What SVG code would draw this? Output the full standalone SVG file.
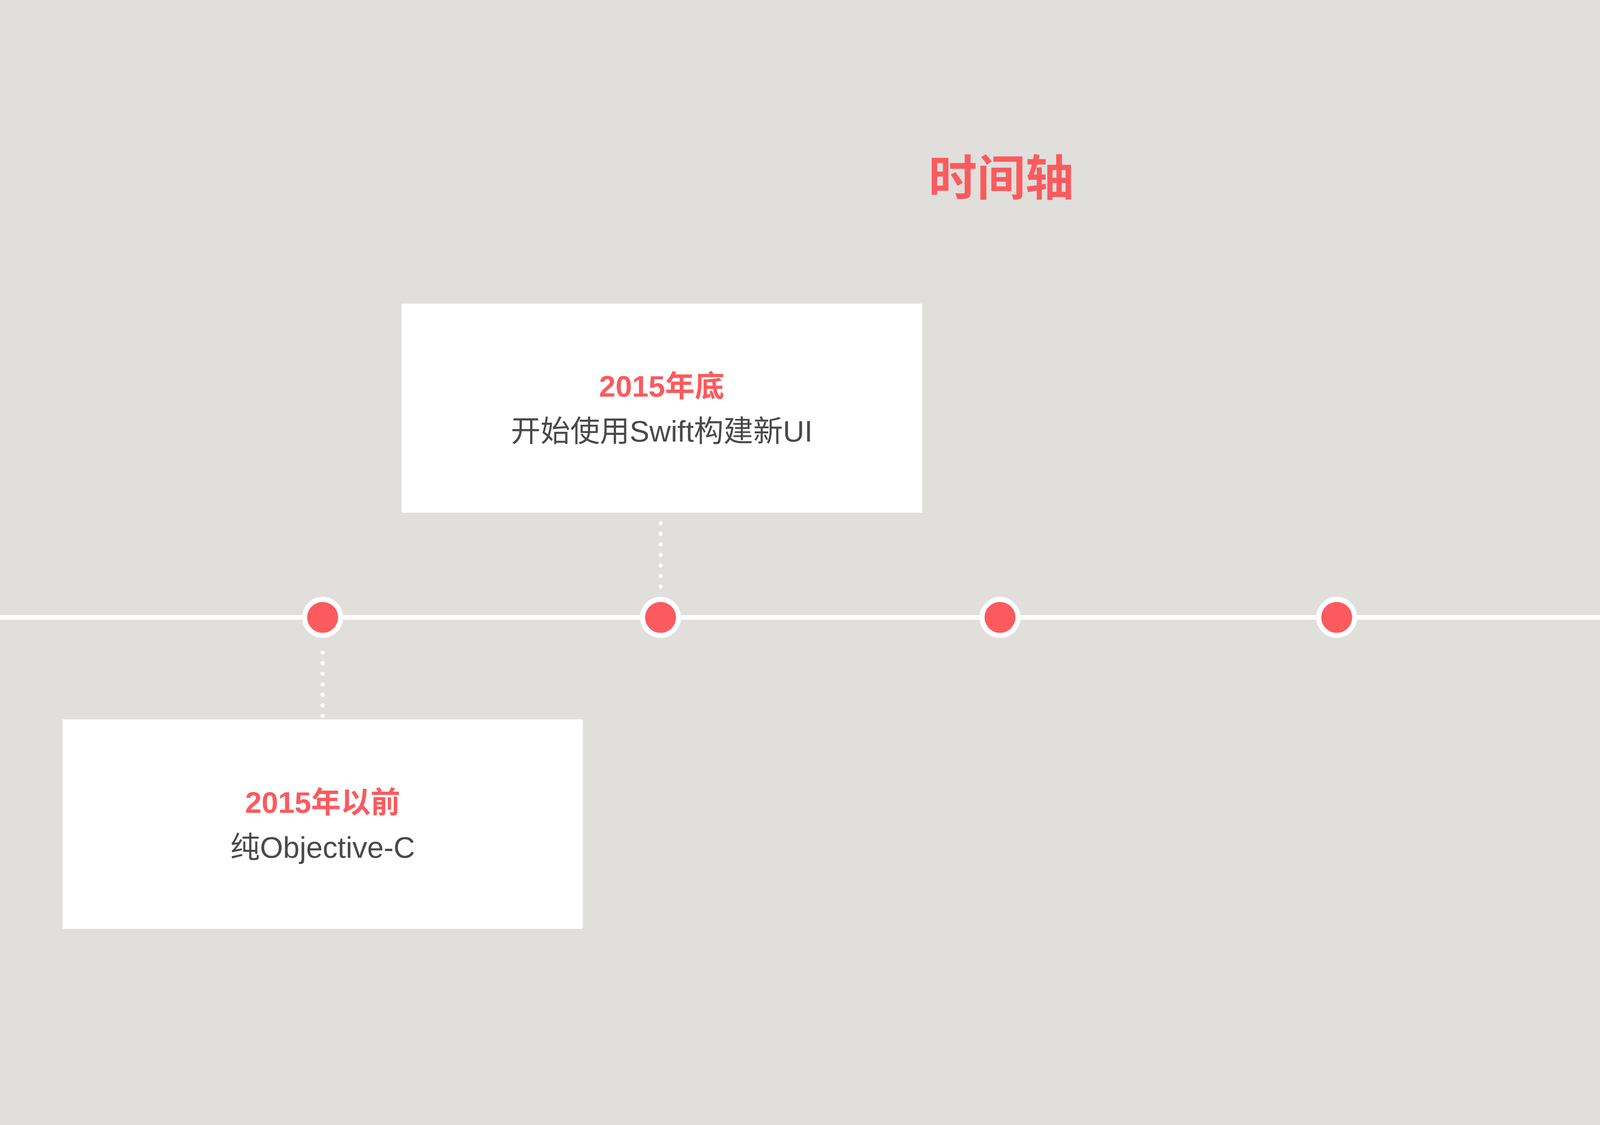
<svg xmlns="http://www.w3.org/2000/svg" width="5119" height="2879" viewBox="0 0 5119 2879">
<style>
.dot{fill:#FB5A5E;stroke:#fff;stroke-width:13}
.box{fill:#fff}
.h{font-family:"Liberation Sans","Noto Sans CJK SC",sans-serif;font-weight:bold;fill:#FB5A5E;text-anchor:middle}
.t{font-family:"Liberation Sans","Noto Sans CJK SC",sans-serif;fill:#4a4a4a;text-anchor:middle}
.dl{stroke:#fff;stroke-width:11;stroke-linecap:round;stroke-dasharray:0 27;fill:none}
</style>
<rect width="5119" height="2879" fill="#E0DFDB"/>
<text class="h" x="2563" y="500" font-size="124">时间轴</text>
<g id="connectors">
<line x1="0" y1="1580" x2="5119" y2="1580" stroke="#fff" stroke-width="12"/>
<line class="dl" x1="1691" y1="1339" x2="1691" y2="1508"/>
<line class="dl" x1="826" y1="1670" x2="826" y2="1835"/>
</g>
<g id="n1"><circle class="dot" cx="826" cy="1580" r="46"/></g>
<g id="n2"><circle class="dot" cx="1691" cy="1580" r="46"/></g>
<g id="n3"><circle class="dot" cx="2560" cy="1580" r="46"/></g>
<g id="n4"><circle class="dot" cx="3422" cy="1580" r="46"/></g>
<g id="n5"><circle class="dot" cx="4287" cy="1580" r="46"/></g>
<g id="box1">
<rect class="box" x="1028" y="777" width="1333" height="535"/>
<text class="h" x="1694" y="1015" font-size="76">2015年底</text>
<text class="t" x="1694" y="1130" font-size="76">开始使用Swift构建新UI</text>
</g>
<g id="box2">
<rect class="box" x="160" y="1841" width="1332" height="536"/>
<text class="h" x="826" y="2080" font-size="76">2015年以前</text>
<text class="t" x="826" y="2195" font-size="76">纯Objective-C</text>
</g>
</svg>
